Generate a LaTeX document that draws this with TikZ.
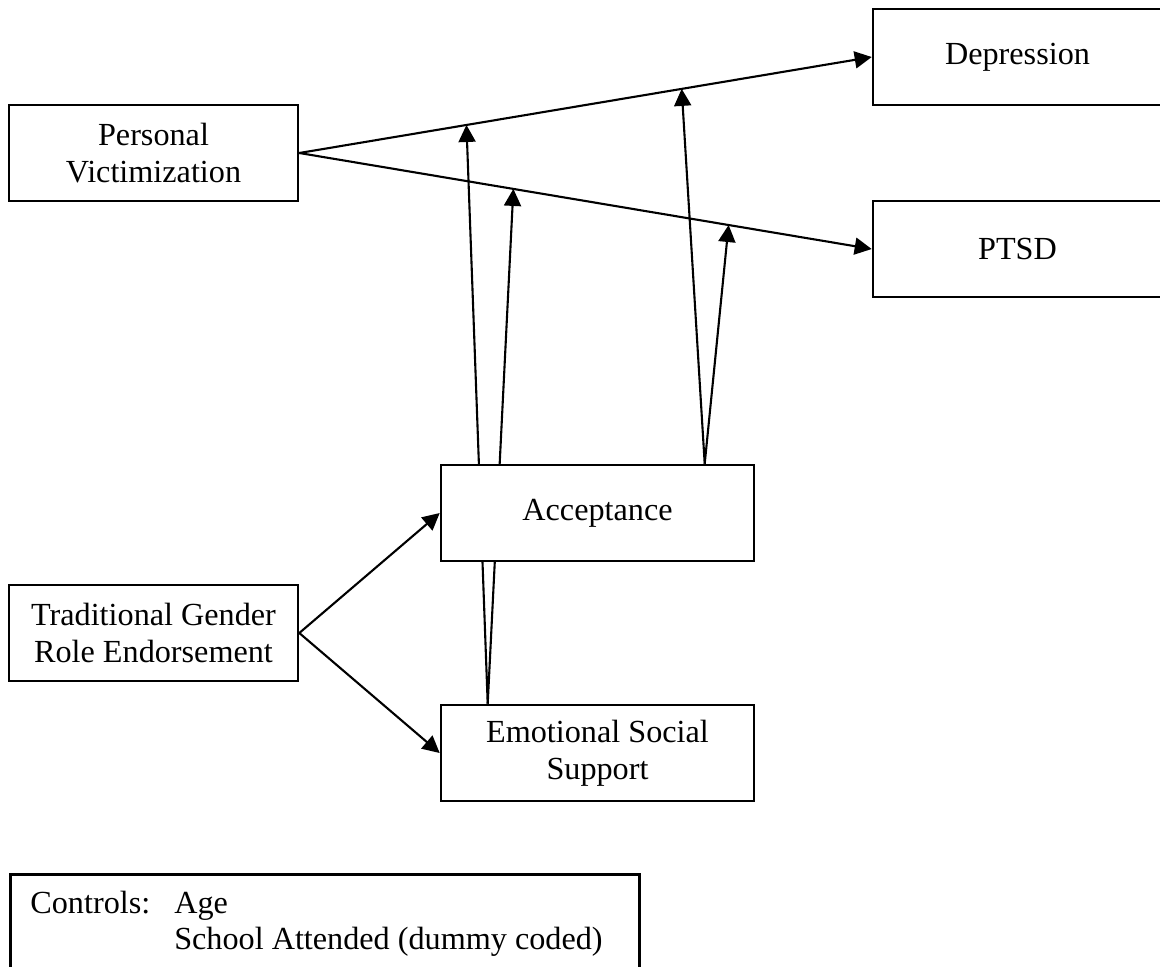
\documentclass[tikz,border=0pt]{standalone}
\usepackage{fontspec}
\setmainfont{Liberation Serif}
\usetikzlibrary{arrows.meta,calc}
\begin{document}
\begin{tikzpicture}[x=0.5pt,y=-0.5pt,
  txt/.style={font=\fontsize{16.1}{18.4}\selectfont},
  box/.style={draw,line width=1.3pt,fill=white,inner sep=0pt,
    minimum width=144.5pt,minimum height=48pt,align=center,txt},
  widebox/.style={box,minimum width=156.5pt},
  effect/.style={line width=1.05pt,-{Triangle[length=8.5pt,width=8.5pt]}},
  link/.style={line width=1.05pt}]
\clip (0,0) rectangle (1160,966);

% outcome and predictor boxes
\node[box] (pv)   at (153.5,153) {Personal\\Victimization};
\node[box] (dep)  at (1017.5,57) {Depression};
\node[box] (ptsd) at (1017.5,249) {PTSD};
\node[widebox] (ess) at (597.5,753) {Emotional Social\\Support};

% main effects
\draw[effect] (pv.east) -- (dep.west);
\draw[effect] (pv.east) -- (ptsd.west);

% points where the moderators meet the main paths
\coordinate (d1) at ($(pv.east)!0.292!(dep.west)$);
\coordinate (d2) at ($(pv.east)!0.668!(dep.west)$);
\coordinate (p1) at ($(pv.east)!0.374!(ptsd.west)$);
\coordinate (p2) at ($(pv.east)!0.750!(ptsd.west)$);

% social support moderation (runs behind the acceptance box)
\coordinate (esstop) at ($(ess.north west)+(48,0)$);
\draw[effect] (esstop) -- (d1);
\draw[effect] (esstop) -- (p1);

% acceptance box and its moderation
\node[widebox] (acc) at (597.5,513) {Acceptance};
\coordinate (acctop) at ($(acc.north west)+(265,0)$);
\draw[effect] (acctop) -- (d2);
\draw[effect] (acctop) -- (p2);

% gender role endorsement
\node[box] (tgre) at (153.5,633) {Traditional Gender\\Role Endorsement};
\draw[effect] (tgre.east) -- (acc.west);
\draw[effect] (tgre.east) -- (ess.west);

% control variables
\node[draw,line width=1.3pt,inner sep=0pt,minimum width=314.5pt,
  minimum height=70pt,anchor=north west] (ctrl) at (9,873) {};
\node[inner sep=0pt,anchor=base west,txt] (ctrltext) at (30,913)
  {\begin{tabular}[t]{@{}l@{\hspace{12pt}}l@{}}
   Controls: & Age\\
             & School Attended (dummy coded)
   \end{tabular}};
\end{tikzpicture}
\end{document}
